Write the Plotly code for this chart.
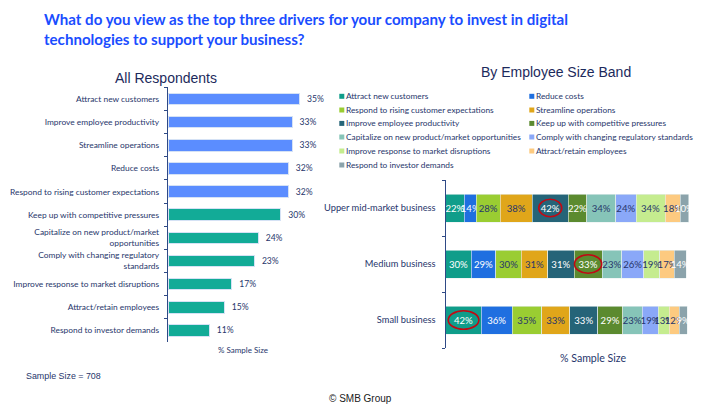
import plotly.graph_objects as go

W, H = 720, 405
NAVY = "#27366b"
AXIS = "#2f4a86"

title_text = "What do you view as the top three drivers for your company to invest in digital<br>technologies to support your business?"

# Left chart
overall_labels = ["Attract new customers", "Improve employee productivity", "Streamline operations",
                  "Reduce costs", "Respond to rising customer expectations", "Keep up with competitive pressures",
                  "Capitalize on new product/market<br>opportunities", "Comply with changing regulatory<br>standards",
                  "Improve response to market disruptions", "Attract/retain employees", "Respond to investor demands"]
overall_values = [35, 33, 33, 32, 32, 30, 24, 23, 17, 15, 11]
overall_colors = ["#5b8dff"] * 5 + ["#12ab97"] * 6

# Right chart
bands = ["Small business", "Medium business", "Upper mid-market business"]
drivers = ["Attract new customers", "Reduce costs", "Respond to rising customer expectations", "Streamline operations",
           "Improve employee productivity", "Keep up with competitive pressures",
           "Capitalize on new product/market opportunities", "Comply with changing regulatory standards",
           "Improve response to market disruptions", "Attract/retain employees", "Respond to investor demands"]
small_values = [42, 36, 35, 33, 33, 29, 23, 19, 13, 12, 9]
medium_values = [30, 29, 30, 31, 31, 33, 23, 26, 19, 17, 14]
upper_values = [22, 14, 28, 38, 42, 22, 34, 24, 34, 18, 10]
driver_colors = ["#0f9d8a", "#1f6fe0", "#9acd32", "#e0a61a", "#256478", "#5b8a2f",
                 "#86c4b8", "#8aa8f8", "#c5ec8f", "#fdca80", "#8ba3ab"]
label_colors = ["#ffffff", "#ffffff", NAVY, NAVY, "#ffffff", "#ffffff", NAVY, NAVY, NAVY, NAVY, "#ffffff"]

def px(x): return x / W
def py(y): return 1 - y / H

fig = go.Figure()

fig.add_trace(go.Bar(
    y=overall_labels, x=overall_values, orientation="h", xaxis="x", yaxis="y",
    marker=dict(color=overall_colors, line=dict(color="#d5e2f5", width=1)),
    text=[f"\u00a0\u00a0{v}%" for v in overall_values], textposition="outside", cliponaxis=False,
    textfont=dict(family="Lato", size=8.6, color=NAVY), showlegend=False))

for i, d in enumerate(drivers):
    vals = [small_values[i], medium_values[i], upper_values[i]]
    fig.add_trace(go.Bar(
        y=bands, x=vals, orientation="h", xaxis="x2", yaxis="y2", name=d,
        marker=dict(color=driver_colors[i], line=dict(color="#e8f0f0", width=0.6)),
        text=[f"{v}%" for v in vals], textposition="inside", insidetextanchor="middle",
        constraintext="none", textangle=0, cliponaxis=False,
        textfont=dict(family="Lato", size=9.6, color=label_colors[i]), showlegend=False))

shapes = []
annotations = []

def note(x, y, text, size, color=NAVY, family="Lato", anchor="center", valign="middle", **kw):
    annotations.append(dict(xref="paper", yref="paper", x=px(x), y=py(y), text=text, showarrow=False,
                            xanchor=anchor, yanchor=valign, align="left" if anchor == "left" else "center",
                            font=dict(family=family, size=size, color=color), **kw))

note(41.5, 7.5, "<b>" + title_text.replace("<br>", "</b><br><b>") + "</b>", 15.1, color="#1a4dff", anchor="left", valign="top")
note(166, 78, "All Respondents", 14, color="#1c2a5c", family="Liberation Sans")
note(556, 72, "By Employee Size Band", 14, color="#1c2a5c", family="Liberation Sans")
note(243, 350, "% Sample Size", 8, family="Lato")
note(593, 358, "% Sample Size", 10.6, family="Lato")
note(23.5, 375.5, "Sample Size = 708", 8.9, color="#27366b", family="Liberation Sans", anchor="left")
note(360, 398.5, "© SMB Group", 10, color="#222222", family="Liberation Sans")

# Legend, filled row by row in two columns
row_y = [96.3, 110, 123.4, 137, 151, 165]
col_x = [339.3, 529.3]
for i, d in enumerate(drivers):
    x0 = col_x[i % 2]
    y0 = row_y[i // 2]
    shapes.append(dict(type="rect", xref="paper", yref="paper", x0=px(x0), x1=px(x0 + 5),
                       y0=py(y0 - 2.5), y1=py(y0 + 2.5), fillcolor=driver_colors[i], line=dict(width=0)))
    note(x0 + 5, y0, d, 8.3, anchor="left")

# Red ellipses around each band's top driver
def ring(band, left, value, half_w, half_h):
    c = left + value / 2
    shapes.append(dict(type="circle", xref="x2", yref="y2", x0=c - half_w, x1=c + half_w,
                       y0=band - half_h, y1=band + half_h, line=dict(color="#c00a14", width=1.6)))

ring(2, sum(upper_values[:4]), upper_values[4], 13.5, 0.155)
ring(1, sum(medium_values[:5]), medium_values[5], 16, 0.165)
ring(0, 0, small_values[0], 18, 0.165)

axis_y = dict(showline=True, linecolor=AXIS, linewidth=1.4, ticks="outside", ticklen=3, tickcolor=AXIS,
              tickson="boundaries", showgrid=False, zeroline=False)

fig.update_layout(
    width=W, height=H, margin=dict(l=0, r=0, t=0, b=0), paper_bgcolor="white", plot_bgcolor="white",
    barmode="stack", showlegend=False, shapes=shapes, annotations=annotations,
    xaxis=dict(domain=[px(168), px(320)], range=[0, 152 / 3.76], visible=False, fixedrange=True),
    yaxis=dict(domain=[py(342), py(87.4)], autorange="reversed", anchor="x", ticklabelstandoff=6,
               tickfont=dict(family="Lato", size=8.4, color=NAVY), **axis_y),
    xaxis2=dict(domain=[px(445.7), px(700.7)], range=[0, 300], visible=False, fixedrange=True, anchor="y2"),
    yaxis2=dict(domain=[py(348), py(180)], anchor="x2", ticklabelstandoff=7,
                tickfont=dict(family="Lato", size=9.3, color=NAVY), **axis_y),
    bargap=0.5,
)

fig.write_html("out.html", config={"displayModeBar": False},
               post_script="document.body.style.margin='0';document.documentElement.style.overflow='hidden';window.scrollTo(0,0);")
